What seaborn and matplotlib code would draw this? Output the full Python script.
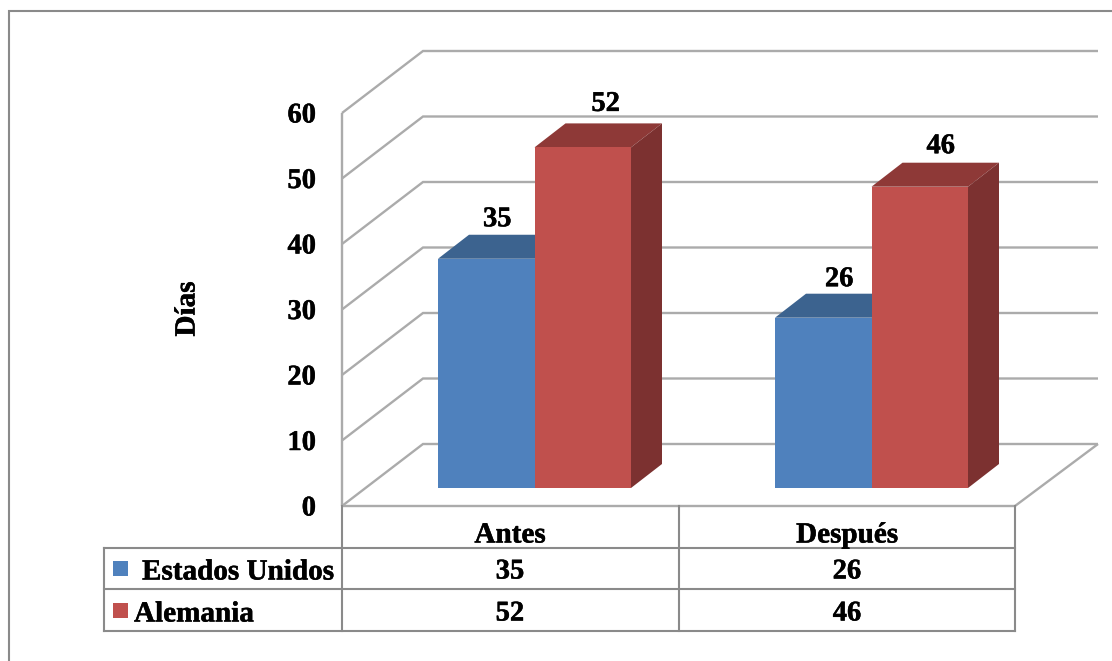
import matplotlib
matplotlib.use("Agg")
import matplotlib.pyplot as plt
import matplotlib.patheffects as pe
from matplotlib.patches import Polygon, Rectangle
import pandas as pd
import seaborn as sns

# Chart data
periods = ["Antes", "Después"]
series_names = ["Estados Unidos", "Alemania"]
estados_unidos = [35, 26]
alemania = [52, 46]
y_ticks = [0, 10, 20, 30, 40, 50, 60]

# Colours: front, top and side faces of each series
front_colors = ["#4F81BD", "#C0504D"]
top_colors = ["#3C638F", "#8E3937"]
side_colors = ["#34557B", "#7C3130"]
grid_color = "#ABABAB"
table_color = "#8A8A8A"

# Canvas layout in pixels
W, H = 1112, 661
PX_PER_CATEGORY = 337.0
PX_PER_UNIT = 6.55
FIRST_CATEGORY_PX = 534.5
BASELINE_PX = 488.0
BAR_PX = 96.5
DEPTH_PX = (31, 24)
WALL_FRONT = (342, 506)
WALL_BACK = (423, 444)
WALL_RIGHT_FRONT = 1015
WALL_RIGHT_BACK = 1098

sns.set_theme(style="white")
plt.rcParams["font.family"] = ["Liberation Serif", "DejaVu Serif"]
plt.rcParams["font.weight"] = "bold"

# Slight outline gives the bold serif its heavier look
heavy = [pe.withStroke(linewidth=0.35, foreground="black")]
number_kw = dict(fontsize=20.5, fontweight="bold", color="black", path_effects=heavy)
word_kw = dict(fontsize=21, fontweight="bold", color="black", path_effects=heavy)

df = pd.DataFrame({
    "periodo": periods * 2,
    "pais": [series_names[0]] * 2 + [series_names[1]] * 2,
    "dias": estados_unidos + alemania,
})

fig = plt.figure(figsize=(W / 100, H / 100), dpi=100, facecolor="white")
ax = fig.add_axes([0, 0, 1, 1])
sns.barplot(
    data=df, x="periodo", y="dias", hue="pais", order=periods,
    hue_order=series_names, palette=front_colors, saturation=1,
    width=2 * BAR_PX / PX_PER_CATEGORY, gap=0, legend=False,
    linewidth=0, ax=ax, zorder=5,
)
ax.set_xlim(-FIRST_CATEGORY_PX / PX_PER_CATEGORY, (W - FIRST_CATEGORY_PX) / PX_PER_CATEGORY)
ax.set_ylim((BASELINE_PX - H) / PX_PER_UNIT, BASELINE_PX / PX_PER_UNIT)
ax.set_axis_off()

# Overlay in pixel units for the frame, the walls and the data table
px = fig.add_axes([0, 0, 1, 1], zorder=-1)
px.set_xlim(0, W)
px.set_ylim(H, 0)
px.set_axis_off()
top = fig.add_axes([0, 0, 1, 1], zorder=3)
top.set_xlim(0, W)
top.set_ylim(H, 0)
top.set_axis_off()
top.patch.set_alpha(0)
ax.patch.set_alpha(0)

# Outer frame
px.plot([9, 9, W], [H, 11, 11], color=table_color, lw=1.5, solid_joinstyle="miter")

# Walls and gridlines, one per tick value
grid_kw = dict(color=grid_color, lw=1.7, solid_capstyle="butt", solid_joinstyle="miter")
for v in y_ticks:
    h = v * PX_PER_UNIT
    px.plot([WALL_FRONT[0], WALL_BACK[0], WALL_RIGHT_BACK],
            [WALL_FRONT[1] - h, WALL_BACK[1] - h, WALL_BACK[1] - h], **grid_kw)
    top.text(316, WALL_FRONT[1] - h, str(v), ha="right", va="center_baseline", **number_kw)
px.plot([WALL_FRONT[0], WALL_FRONT[0]],
        [WALL_FRONT[1], WALL_FRONT[1] - y_ticks[-1] * PX_PER_UNIT], **grid_kw)
px.plot([WALL_RIGHT_BACK, WALL_RIGHT_FRONT, WALL_FRONT[0]],
        [WALL_BACK[1], WALL_FRONT[1], WALL_FRONT[1]], **grid_kw)

# Axis title
top.text(187, 309, "Días", rotation=90, ha="center", va="center", **word_kw)

# Top and side faces derived from each drawn bar
dx = DEPTH_PX[0] / PX_PER_CATEGORY
dy = DEPTH_PX[1] / PX_PER_UNIT
for s, container in enumerate(ax.containers):
    for bar in container:
        x0, x1 = bar.get_x(), bar.get_x() + bar.get_width()
        y1 = bar.get_height()
        ax.add_patch(Polygon([(x0, y1), (x1, y1), (x1 + dx, y1 + dy), (x0 + dx, y1 + dy)],
                             closed=True, fc=top_colors[s], ec="none", zorder=3 + s))
        ax.add_patch(Polygon([(x1, 0), (x1 + dx, dy), (x1 + dx, y1 + dy), (x1, y1)],
                             closed=True, fc=side_colors[s], ec="none", zorder=3 + s))
# The taller series sits in front of the neighbouring series
for s, container in enumerate(ax.containers):
    for bar in container:
        bar.set_zorder(4 + s)

# Value labels above the bars, nudged in pixels towards the back of each top face
label_nudges = [[(11, 42), (16, 41)], [(23, 46), (21, 43)]]
for s, container in enumerate(ax.containers):
    for i, bar in enumerate(container):
        ax.annotate(
            f"{bar.get_height():.0f}",
            (bar.get_x() + bar.get_width() / 2, bar.get_height()),
            xytext=(label_nudges[s][i][0] * 0.72, label_nudges[s][i][1] * 0.72),
            textcoords="offset points", ha="center", va="center_baseline",
            zorder=8, **number_kw,
        )

# Data table under the plot
table_kw = dict(color=table_color, lw=1.5, solid_capstyle="projecting")
col_edges = [342, 678.5, 1015]
row_edges = [506, 548, 589, 631]
left_edge = 104
for x in col_edges:
    px.plot([x, x], [row_edges[0], row_edges[-1]], **table_kw)
px.plot([left_edge, left_edge], [row_edges[1], row_edges[-1]], **table_kw)
for y in row_edges[1:]:
    px.plot([left_edge, col_edges[2]], [y, y], **table_kw)

col_centers = [510, 847]
row_centers = [569, 611]
for cx, name, a, b in zip(col_centers, periods, estados_unidos, alemania):
    top.text(cx, 532, name, ha="center", va="center_baseline", **word_kw)
    top.text(cx, row_centers[0], str(a), ha="center", va="center_baseline", **number_kw)
    top.text(cx, row_centers[1], str(b), ha="center", va="center_baseline", **number_kw)

for yc, name, color, x_text in zip(row_centers, series_names, front_colors, [142, 134]):
    top.add_patch(Rectangle((113, yc - 8), 15, 15, fc=color, ec="none"))
    top.text(x_text, yc, name, ha="left", va="center_baseline", **word_kw)

fig.savefig("out.png", dpi=100, facecolor="white")
